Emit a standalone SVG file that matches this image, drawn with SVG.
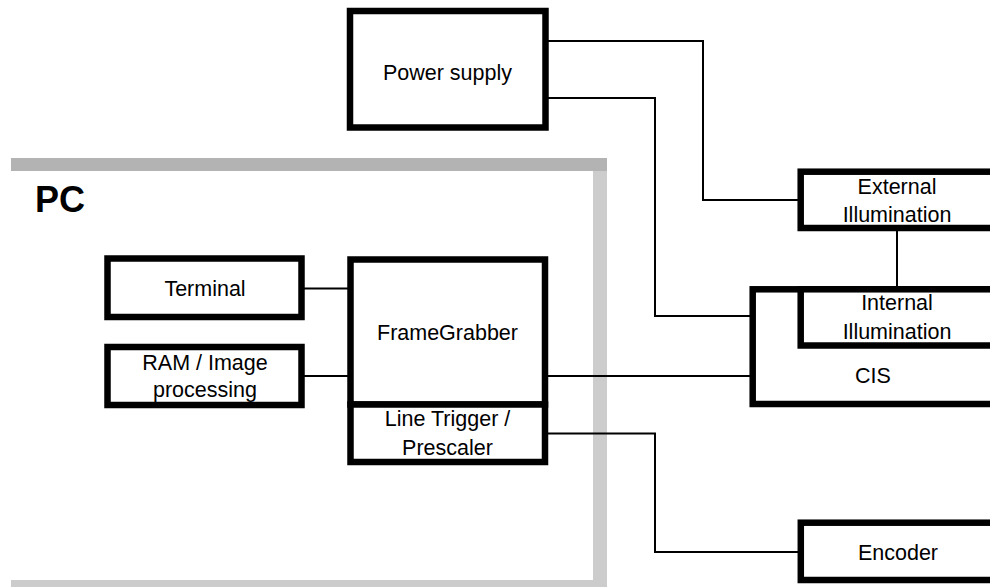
<svg xmlns="http://www.w3.org/2000/svg" width="990" height="587" viewBox="0 0 990 587">
<style>
.box{fill:#fff;stroke:#000;stroke-width:6.5}
.t{font-family:"Liberation Sans",Arial,sans-serif;font-size:21.5px;fill:#000;text-anchor:middle}
.c{fill:none;stroke:#000;stroke-width:2}
</style>
<rect width="990" height="587" fill="#fff"/>
<g id="pc">
<rect x="11" y="158" width="596" height="13" fill="#b3b3b3"/>
<rect x="593" y="171" width="14" height="416" fill="#cccccc"/>
<rect x="11" y="580" width="582" height="7" fill="#cccccc"/>
<text x="35" y="212" style="font-family:'Liberation Sans',Arial,sans-serif;font-size:36px;font-weight:bold">PC</text>
</g>
<g id="connectors">
<path class="c" d="M545 41H703V200H800"/>
<path class="c" d="M545 98H655V316H752"/>
<path class="c" d="M545 376H752"/>
<path class="c" d="M897 228V289"/>
<path class="c" d="M545 433.5H655V552H800"/>
<path class="c" d="M301 288.5H350"/>
<path class="c" d="M301 376H350"/>
</g>
<g id="power">
<rect class="box" x="350" y="11" width="195.5" height="116.5"/>
<text class="t" x="447.5" y="80">Power supply</text>
</g>
<g id="terminal">
<rect class="box" x="107.5" y="258.5" width="194" height="58.5"/>
<text class="t" x="205" y="295.5">Terminal</text>
</g>
<g id="ram">
<rect class="box" x="107.5" y="347" width="194" height="58"/>
<text class="t" x="205" y="370">RAM / Image</text>
<text class="t" x="205" y="396.5">processing</text>
</g>
<g id="framegrabber">
<rect class="box" x="350.5" y="259.5" width="194.5" height="145"/>
<text class="t" x="447.5" y="340">FrameGrabber</text>
</g>
<g id="linetrigger">
<rect class="box" x="350.5" y="404.5" width="194.5" height="57.5"/>
<text class="t" x="447.5" y="426">Line Trigger /</text>
<text class="t" x="447.5" y="454.5">Prescaler</text>
</g>
<g id="external">
<rect class="box" x="800.7" y="171.7" width="200" height="56.3"/>
<text class="t" x="897" y="193.5">External</text>
<text class="t" x="897" y="221.5">Illumination</text>
</g>
<g id="cis">
<rect class="box" x="752.7" y="289.3" width="250" height="114.7"/>
<text class="t" x="873" y="382.5">CIS</text>
</g>
<g id="internal">
<rect class="box" x="800.7" y="289.3" width="200" height="56.2"/>
<text class="t" x="897" y="310">Internal</text>
<text class="t" x="897" y="338.5">Illumination</text>
</g>
<g id="encoder">
<rect class="box" x="800.8" y="522.7" width="200" height="57.3"/>
<text class="t" x="898" y="559.5">Encoder</text>
</g>
</svg>
